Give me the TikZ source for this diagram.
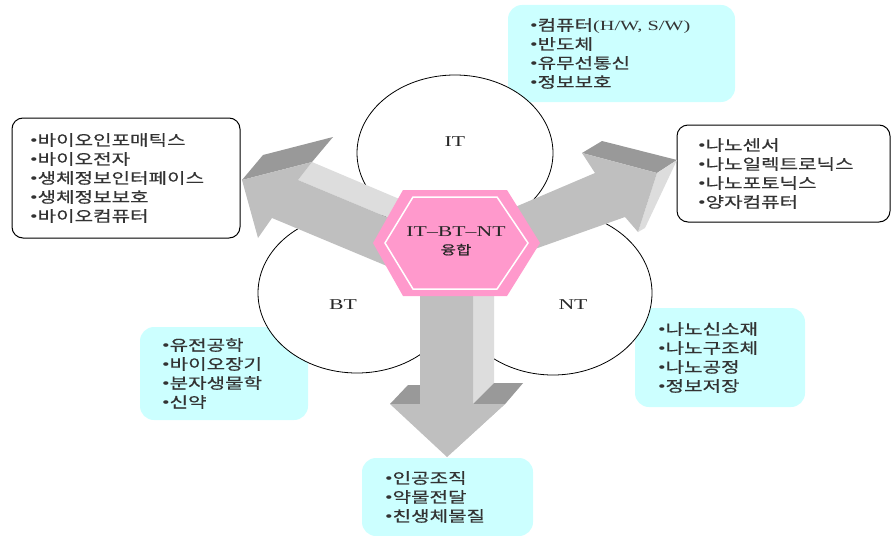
\documentclass[tikz,border=0pt]{standalone}
\usepackage{fontspec}
\newfontfamily\latf{Liberation Serif}[FakeStretch=1.45]
\newfontfamily\krf{Noto Sans CJK KR}[FakeStretch=1.34,FakeBold=0.4]
\usetikzlibrary{shapes.geometric}
\definecolor{boxcyan}{RGB}{204,255,255}
\definecolor{hexpink}{RGB}{255,153,204}
\definecolor{arrmid}{RGB}{191,191,191}
\definecolor{arrdark}{RGB}{153,153,153}
\definecolor{arrlight}{RGB}{221,221,221}
\newcommand\bulletmark{{\latf •}}
\begin{document}
\begin{tikzpicture}[x=1pt,y=-1pt,
  listtext/.style={font=\krf\fontsize{15}{19}\selectfont, text=black!80, align=left, inner ysep=0pt},
  cyanbox/.style={listtext, fill=boxcyan, rounded corners=14pt},
  whitebox/.style={listtext, draw=black, line width=1pt, fill=white, rounded corners=11pt},
  bubble/.style={draw=black, line width=0.8pt, fill=white, ellipse, inner sep=0pt},
  tlabel/.style={font=\latf\fontsize{15}{18}\selectfont, text=black!85},
  fmid/.style={fill=arrmid}, fdark/.style={fill=arrdark}, flight/.style={fill=arrlight}]
\useasboundingbox (0,0) rectangle (893,535);

% list boxes
\node[cyanbox, text width=183pt, inner xsep=22pt, minimum height=97pt] (itbox) at (621.5,53.5)
  {\bulletmark 컴퓨터{\latf\fontsize{14}{19}\selectfont (H/W, S/W)}\\ \bulletmark 반도체\\ \bulletmark 유무선통신\\ \bulletmark 정보보호};
\node[whitebox, text width=192pt, inner xsep=18pt, minimum height=120pt] (leftbox) at (126,178)
  {\bulletmark 바이오인포매틱스\\ \bulletmark 바이오전자\\ \bulletmark 생체정보인터페이스\\ \bulletmark 생체정보보호\\ \bulletmark 바이오컴퓨터};
\node[whitebox, text width=171pt, inner xsep=21pt, minimum height=97pt] (rightbox) at (783.5,173.5)
  {\bulletmark 나노센서\\ \bulletmark 나노일렉트로닉스\\ \bulletmark 나노포토닉스\\ \bulletmark 양자컴퓨터};
\node[cyanbox, text width=124pt, inner xsep=22pt, minimum height=93pt] (btbox) at (224,373.5)
  {\bulletmark 유전공학\\ \bulletmark 바이오장기\\ \bulletmark 분자생물학\\ \bulletmark 신약};
\node[cyanbox, text width=124pt, inner xsep=23pt, minimum height=99pt] (ntbox) at (720,357.5)
  {\bulletmark 나노신소재\\ \bulletmark 나노구조체\\ \bulletmark 나노공정\\ \bulletmark 정보저장};
\node[cyanbox, text width=125pt, inner xsep=23pt, minimum height=78pt] (bottombox) at (447.5,497)
  {\bulletmark 인공조직\\ \bulletmark 약물전달\\ \bulletmark 친생체물질};

% bubbles
\node[bubble, minimum width=196pt, minimum height=156pt] (itE) at (455,153) {};
\node[bubble, minimum width=198pt, minimum height=160pt] (btE) at (357,293) {};
\node[bubble, minimum width=198pt, minimum height=164pt] (ntE) at (553,293) {};

% down arrow
\fill[fmid] (505,404) -- (523,383) -- (447,457) -- cycle;
\fill[flight] (473,294) -- (494,294) -- (494,383) -- (473,404) -- cycle;
\fill[fdark] (390,404) -- (408,385) -- (420,385) -- (420,404) -- cycle;
\fill[fdark] (473,404) -- (494,383) -- (523,383) -- (505,404) -- cycle;
\fill[fmid] (420,294) -- (420,404) -- (390,404) -- (447,457) -- (505,404) -- (473,404) -- (473,294) -- cycle;

% left arrow
\fill[fdark] (242,180) -- (263,155) -- (333,137) -- (312,162) -- cycle;
\fill[flight] (298,180) -- (312,162) -- (430,212) -- (420,231) -- cycle;
\fill[fmid] (242,180) -- (312,162) -- (298,180) -- (420,231) -- (430,284) -- (272,218) -- (258,238) -- cycle;

% right arrow
\fill[fdark] (582,153) -- (602,141) -- (677,160) -- (657,173) -- cycle;
\fill[flight] (657,173) -- (677,160) -- (645,228) -- (638,232) -- cycle;
\fill[fmid] (657,173) -- (638,232) -- (625,217) -- (470,272) -- (480,222) -- (595,173) -- (582,153) -- cycle;

% hexagon
\fill[hexpink] (403,190) -- (507,190) -- (540,243) -- (507,296) -- (403,296) -- (373,243) -- cycle;
\draw[white, line width=1.5pt] (413,197) -- (497,197) -- (528,243) -- (497,289) -- (413,289) -- (385,243) -- cycle;
\node[tlabel, align=center] (hex) at (456,241) {IT–BT–NT\\{\krf\fontsize{12.5}{18}\selectfont 융합}};

% labels
\node[tlabel] (itlab) at (455,142) {IT};
\node[tlabel] (btlab) at (343,305) {BT};
\node[tlabel] (ntlab) at (573,305) {NT};
\end{tikzpicture}
\end{document}
